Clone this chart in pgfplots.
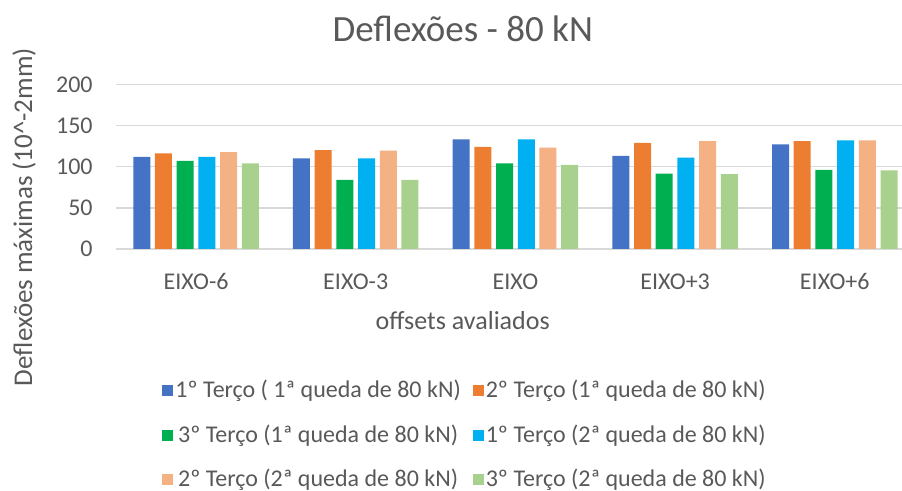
\documentclass[border=0pt]{standalone}
\usepackage{fontspec}
\setmainfont{Carlito}
\usepackage{pgfplots}
\pgfplotsset{compat=1.18}

\definecolor{txt}{HTML}{595959}
\definecolor{gridc}{HTML}{D9D9D9}
\definecolor{c1}{HTML}{4472C4}
\definecolor{c2}{HTML}{ED7D31}
\definecolor{c3}{HTML}{00B050}
\definecolor{c4}{HTML}{00B0F0}
\definecolor{c5}{HTML}{F4B183}
\definecolor{c6}{HTML}{A9D18E}

\begin{document}
\begin{tikzpicture}
\begin{axis}[
  scale only axis,
  width=392.9pt, height=82.35pt,
  ybar=2.35pt, bar width=8.5pt,
  xmin=-0.5, xmax=4.421,
  ymin=0, ymax=200, ytick={0,50,100,150,200},
  xtick=data,
  xticklabels={EIXO-6,EIXO-3,EIXO,EIXO+3,EIXO+6},
  axis line style={draw=none},
  tick style={draw=none}, major tick length=0pt,
  ymajorgrids, xmajorgrids=false, grid style={gridc, line width=0.75pt},
  tick label style={font=\fontsize{12}{14}\selectfont, text=txt},
  /pgf/number format/assume math mode=true,
  xticklabel style={anchor=base, inner sep=0pt, yshift=-20.5pt},
  yticklabel style={anchor=east, inner sep=0pt, xshift=-11.6pt},
  title={Deflexões - 80 kN},
  title style={at={(axis description cs:0.441,1.19)}, anchor=base, yshift=0pt,
    font=\fontsize{18.5}{22}\selectfont, text=txt},
  xlabel={offsets avaliados},
  xlabel style={at={(axis description cs:0.441,-0.486)}, anchor=base,
    font=\fontsize{13}{15}\selectfont, text=txt},
  ylabel={Deflexões máximas (10\textasciicircum-2mm)},
  ylabel style={at={(axis description cs:-0.107,0.194)}, anchor=base,
    font=\fontsize{13.5}{15}\selectfont, text=txt},
  legend columns=2,
  legend style={draw=none, at={(axis description cs:0.444,-1.13)}, anchor=center,
    font=\fontsize{12}{14}\selectfont, text=txt,
    nodes={inner sep=1pt}, row sep=10pt,
    /tikz/every even column/.append style={column sep=5pt}},
  legend image code/.code={\fill[#1,draw=none] (0pt,-2.75pt) rectangle (5.5pt,2.75pt);},
]
\addplot[fill=c1, draw=none] coordinates {(0,112) (1,110) (2,133) (3,113) (4,127)};
\addlegendentry{1º Terço ( 1ª queda de 80 kN)}
\addplot[fill=c2, draw=none] coordinates {(0,116) (1,120) (2,124) (3,129) (4,131)};
\addlegendentry{2º Terço (1ª queda de 80 kN)}
\addplot[fill=c3, draw=none] coordinates {(0,107) (1,84) (2,104) (3,91.5) (4,96)};
\addlegendentry{3º Terço (1ª queda de 80 kN)}
\addplot[fill=c4, draw=none] coordinates {(0,112) (1,110) (2,133) (3,111) (4,132)};
\addlegendentry{1º Terço (2ª queda de 80 kN)}
\addplot[fill=c5, draw=none] coordinates {(0,117.5) (1,119.5) (2,123) (3,131) (4,132)};
\addlegendentry{2º Terço (2ª queda de 80 kN)}
\addplot[fill=c6, draw=none] coordinates {(0,104) (1,84) (2,102) (3,91) (4,95.5)};
\addlegendentry{3º Terço (2ª queda de 80 kN)}
\end{axis}
\pgfresetboundingbox
\path (-58.1pt,-121pt) rectangle (392.9pt,124.5pt);
\end{tikzpicture}
\end{document}
